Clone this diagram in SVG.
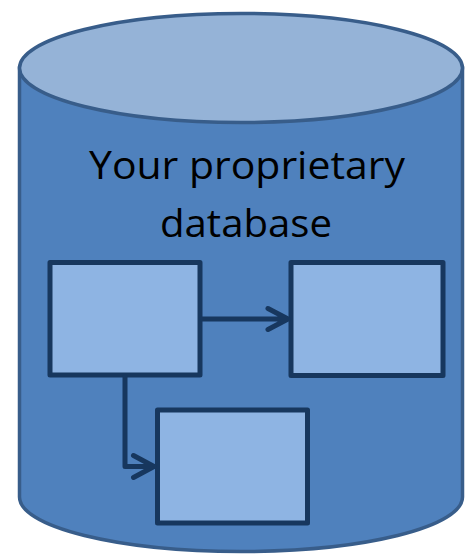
<svg xmlns="http://www.w3.org/2000/svg" width="465" height="556" viewBox="0 0 465 556">
<style>
.cyl{fill:#4f81bd;stroke:#385d8a;stroke-width:3.5}
.top{fill:#95b3d7;stroke:#385d8a;stroke-width:3.5}
.box{fill:#8eb4e3;stroke:#17375e;stroke-width:5;stroke-linejoin:round}
.conn{fill:none;stroke:#17375e;stroke-width:5;stroke-linecap:round;stroke-linejoin:round}
.lbl{font-family:"Open Sans","Noto Sans","Liberation Sans",sans-serif;font-size:38px;fill:#000;text-anchor:middle}
</style>
<g id="database">
<path class="cyl" d="M19.5,68 L19.5,497 A221.5,54.5 0 0 0 462.5,497 L462.5,68 Z"/>
<ellipse class="top" cx="241" cy="68" rx="221.5" ry="54.5"/>
<text class="lbl" x="247" y="179" textLength="316" lengthAdjust="spacingAndGlyphs">Your proprietary</text>
<text class="lbl" x="246" y="237" textLength="172" lengthAdjust="spacingAndGlyphs">database</text>
</g>
<g id="box1"><rect class="box" x="50" y="262.5" width="150" height="112.5"/></g>
<g id="box2"><rect class="box" x="291" y="262.5" width="152" height="113"/></g>
<g id="box3"><rect class="box" x="157.5" y="410" width="150" height="113"/></g>
<g id="connectors">
<path class="conn" d="M202,319 L288,319 M268,308.5 L288,319 L268,329.5"/>
<path class="conn" d="M125,377 L125,466.5 L154,466.5 M133.5,455.5 L154,466.5 L133.5,477.5"/>
</g>
</svg>
